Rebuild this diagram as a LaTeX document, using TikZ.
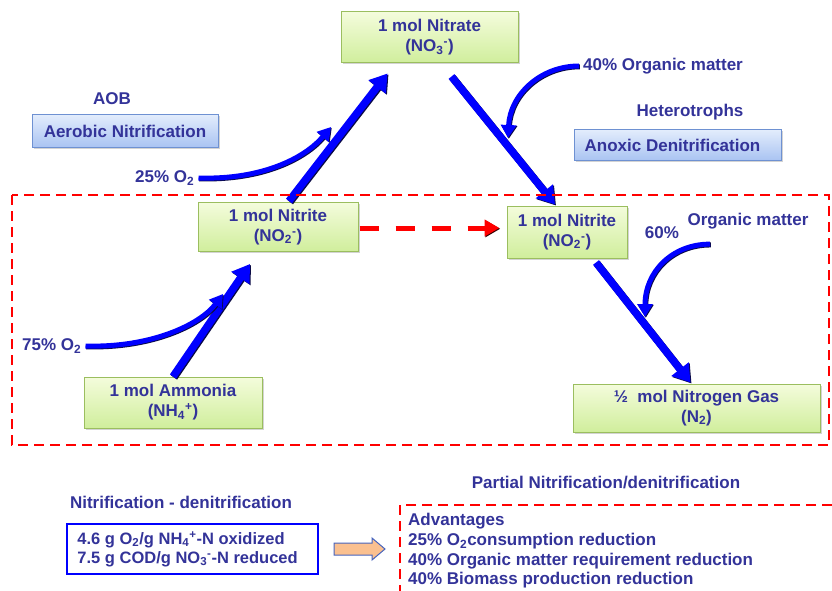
\documentclass[tikz,border=0pt]{standalone}
\usepackage{fontspec}
\setmainfont{Liberation Sans}
\usetikzlibrary{arrows.meta,shadows}
\definecolor{ink}{RGB}{51,51,153}
\definecolor{arrowblue}{RGB}{0,0,255}
\definecolor{arrowedge}{RGB}{10,10,70}
\definecolor{dashred}{RGB}{255,0,0}
\definecolor{gtop}{RGB}{244,252,220}
\definecolor{gbot}{RGB}{208,238,156}
\definecolor{gline}{RGB}{155,190,95}
\definecolor{btop}{RGB}{226,236,252}
\definecolor{bbot}{RGB}{170,196,242}
\definecolor{bline}{RGB}{110,145,210}
\definecolor{peach}{RGB}{250,192,144}
\definecolor{peachline}{RGB}{70,100,190}
\newcommand\dn[1]{\textsubscript{#1}}
\newcommand\upr[1]{\textsuperscript{#1}}
\tikzset{
  lbl/.style={font=\fontsize{17}{20}\selectfont\bfseries, text=ink, inner sep=2pt},
  greenbox/.style={lbl, draw=gline, line width=1pt, top color=gtop, bottom color=gbot,
    align=center, inner sep=0pt,
    drop shadow={shadow xshift=1.5pt, shadow yshift=-1.5pt, opacity=0.35}},
  bluebox/.style={lbl, draw=bline, line width=1pt, top color=btop, bottom color=bbot,
    align=center, inner sep=0pt,
    drop shadow={shadow xshift=1.5pt, shadow yshift=-1.5pt, opacity=0.35}},
  bigflow/.style={draw=arrowblue, line width=7.5pt, -{Triangle[width=21pt,length=17pt]},
    preaction={draw=arrowedge, line width=7.5pt, -{Triangle[width=21pt,length=17pt]},
      transform canvas={shift={(1pt,-1pt)}}}},
  feed/.style={draw=arrowblue, line width=5pt, -{Triangle[width=15pt,length=13pt]},
    preaction={draw=arrowedge, line width=5pt, -{Triangle[width=15pt,length=13pt]},
      transform canvas={shift={(0.8pt,-0.8pt)}}}},
  shortcut/.style={draw=dashred, line width=5pt, line cap=butt, dash pattern=on 19pt off 17pt,
    -{Triangle[width=16pt,length=15pt]},
    preaction={draw=black!80!red, line width=5pt, line cap=butt, dash pattern=on 19pt off 17pt,
      -{Triangle[width=16pt,length=15pt]}, transform canvas={shift={(0.8pt,-0.8pt)}}}},
  zone/.style={draw=dashred, line width=2.6pt, dash pattern=on 10pt off 6pt},
}
\begin{document}
\begin{tikzpicture}[x=1pt,y=-1pt]
\useasboundingbox (0,0) rectangle (832,591);

% nitrogen species
\node[greenbox, minimum width=177pt, minimum height=51pt] (nitrate) at (429.5,37.5)
  {1 mol Nitrate\\(NO\dn{3}\upr{-})};
\node[greenbox, minimum width=160pt, minimum height=49pt] (nitriteL) at (278,227)
  {1 mol Nitrite\\(NO\dn{2}\upr{-})};
\node[greenbox, minimum width=120pt, minimum height=52pt] (nitriteR) at (567,232)
  {1 mol Nitrite\\(NO\dn{2}\upr{-})};
\node[greenbox, minimum width=178pt, minimum height=51pt] (ammonia) at (173,402.5)
  {1 mol Ammonia\\(NH\dn{4}\upr{+})};
\node[greenbox, minimum width=247pt, minimum height=48pt] (ngas) at (696.5,408)
  {½\ \ mol Nitrogen Gas\\(N\dn{2})};

% process labels
\node[lbl] (aob) at (112,99) {AOB};
\node[bluebox, minimum width=186pt, minimum height=32pt] (aerobic) at (125,131) {Aerobic Nitrification};
\node[lbl] (hetero) at (690,112) {Heterotrophs};
\node[bluebox, minimum width=207pt, minimum height=30pt] (anoxic) at (677.5,145)
  {Anoxic Denitrification\kern10pt};

% reactant labels
\node[lbl, anchor=west] (o75) at (20,346) {75\% O\dn{2}};
\node[lbl, anchor=west] (o25) at (133,178) {25\% O\dn{2}};
\node[lbl, anchor=west] (om40) at (581,66) {40\% Organic matter};
\node[lbl] (p60) at (662,233) {60\%};
\node[lbl] (om60) at (748,221) {Organic matter};

% free ends of the feed arrows
\coordinate (t75) at (223,294);
\coordinate (t25) at (331,127);
\coordinate (t40) at (508,138);
\coordinate (t60) at (645,317);

% main conversions
\draw[bigflow] (ammonia.north) -- ([xshift=-28pt,yshift=-12pt]nitriteL.south);
\draw[bigflow] ([xshift=11pt,yshift=1pt]nitriteL.north) -- ([xshift=-42pt,yshift=-10pt]nitrate.south);
\draw[bigflow] ([xshift=22pt,yshift=-13pt]nitrate.south) -- ([xshift=-12pt,yshift=1pt]nitriteR.north);
\draw[bigflow] ([xshift=29pt,yshift=-4pt]nitriteR.south) -- ([xshift=-6pt,yshift=1pt]ngas.north);

% oxygen and carbon feeds
\draw[feed] ([xshift=2pt]o75.east) .. controls (150,348) and (200,325) .. (t75);
\draw[feed] ([xshift=2pt]o25.east) .. controls (262,180) and (305,158) .. (t25);
\draw[feed] ([xshift=-2pt]om40.west) .. controls (540,66) and (510,95) .. (t40);
\draw[feed] ([xshift=-38pt,yshift=-13pt]om60.south) .. controls (672,244) and (645,272) .. (t60);

% nitrite shortcut
\draw[shortcut] ([xshift=1pt,yshift=-1pt]nitriteL.east) -- ([xshift=-7pt,yshift=-1pt]nitriteL.east -| nitriteR.west);

% partial nitrification zone
\draw[zone] (12,195) rectangle (829,445);

% comparison panel
\node[lbl] (ndtitle) at (181,502) {Nitrification - denitrification};
\node[draw=arrowblue, line width=1.5pt, minimum width=251pt, minimum height=50pt] (ndbox) at (192.5,549) {};
\node[lbl, anchor=west, align=left, inner sep=0pt,
  font=\fontsize{16.5}{19}\selectfont\bfseries] (ndtext) at ([xshift=11pt]ndbox.west)
  {4.6 g O\dn{2}/g NH\dn{4}\upr{+}-N oxidized\\7.5 g COD/g NO\dn{3}\upr{-}-N reduced};
\draw[fill=peach, draw=peachline, line width=1pt]
  (334,543) -- (372,543) -- (372,538) -- (385,549) -- (372,560) -- (372,555) -- (334,555) -- cycle;
\node[lbl] (pndtitle) at (606,483) {Partial Nitrification/denitrification};
\draw[zone] (832,505) -- (400,505) -- (400,591);
\node[lbl, anchor=west, align=left, inner sep=0pt,
  font=\fontsize{17}{19.7}\selectfont\bfseries] (adv) at (408,551)
  {Advantages\\25\% O\dn{2}consumption reduction\\40\% Organic matter requirement reduction\\40\% Biomass production reduction};
\end{tikzpicture}
\end{document}
